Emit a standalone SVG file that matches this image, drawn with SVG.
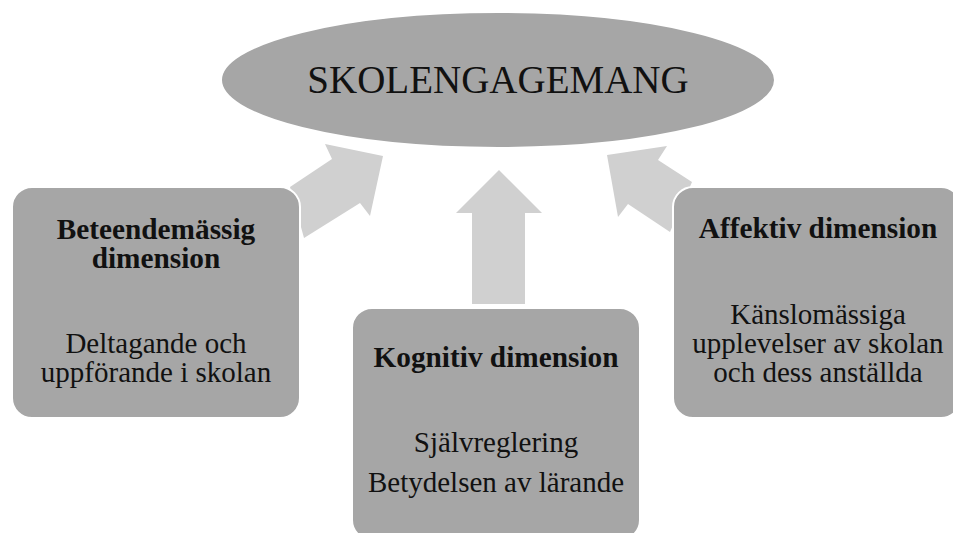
<svg xmlns="http://www.w3.org/2000/svg" width="953" height="533" viewBox="0 0 953 533">
<style>
.node{fill:#a6a6a6;stroke:#ffffff;stroke-width:2}
.arrow{fill:#d0d0d0;stroke:none}
text{font-family:"Liberation Serif","Times New Roman",serif;fill:#111;text-anchor:middle}
.t{font-size:29.3px;font-weight:bold}
.b{font-size:29px}
</style>
<rect width="953" height="533" fill="#ffffff"/>
<g id="connectors">
<polygon class="arrow" points="290,187 332,159 325,144 383,156 370,216 360,203 304,238"/>
<polygon class="arrow" points="499,170 542,213 525,213 525,304 472,304 472,213 456,213"/>
<polygon class="arrow" points="607,155 667,146 658,160 692,182 670,232 628,204 618,217"/>
</g>
<g id="node-skolengagemang">
<ellipse class="node" cx="498" cy="80" rx="277" ry="68"/>
<text x="498" y="93" style="font-size:39px">SKOLENGAGEMANG</text>
</g>
<g id="node-beteende">
<rect class="node" x="12" y="187" width="288" height="231" rx="20"/>
<text class="t" x="156" y="239">Beteendemässig</text>
<text class="t" x="156" y="268">dimension</text>
<text class="b" x="156" y="353">Deltagande och</text>
<text class="b" x="156" y="382">uppförande i skolan</text>
</g>
<g id="node-kognitiv">
<rect class="node" x="352" y="308" width="288" height="232" rx="20"/>
<text class="t" x="496" y="367">Kognitiv dimension</text>
<text class="b" x="496" y="452">Självreglering</text>
<text class="b" x="496" y="492">Betydelsen av lärande</text>
</g>
<g id="node-affektiv">
<rect class="node" x="673" y="187" width="288" height="231" rx="20"/>
<text class="t" x="818" y="238">Affektiv dimension</text>
<text class="b" x="818" y="324">Känslomässiga</text>
<text class="b" x="818" y="353">upplevelser av skolan</text>
<text class="b" x="818" y="382">och dess anställda</text>
</g>
</svg>
